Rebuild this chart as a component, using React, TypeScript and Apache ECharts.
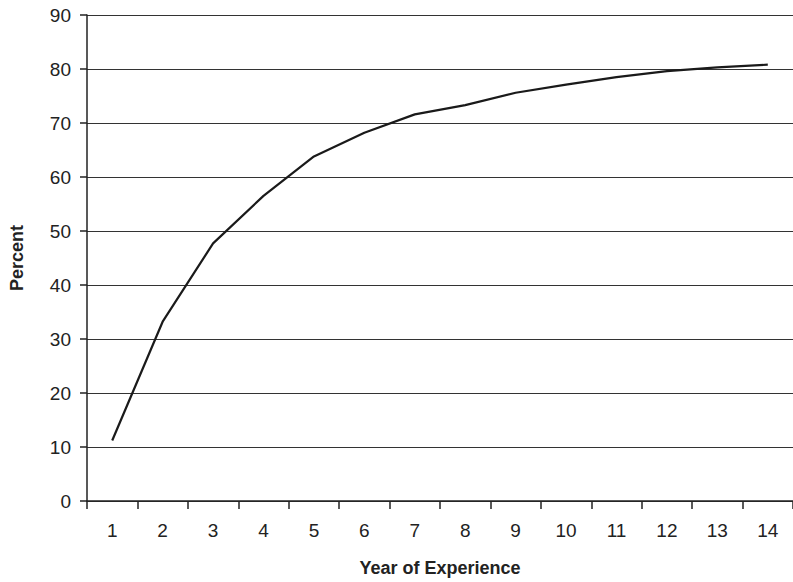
import React, { useEffect, useRef } from "react";
import * as echarts from "echarts";

const years = ["1", "2", "3", "4", "5", "6", "7", "8", "9", "10", "11", "12", "13", "14"];
const percent = [11.2, 33.2, 47.7, 56.5, 63.8, 68.2, 71.6, 73.3, 75.6, 77.1, 78.5, 79.6, 80.3, 80.8];

export default function App() {
  const ref = useRef<HTMLDivElement>(null);
  useEffect(() => {
    if (!ref.current) return;
    document.body.style.margin = "0";
    document.body.style.overflow = "hidden";
    const chart = echarts.init(ref.current, undefined, { renderer: "svg" });
    const font = "'Liberation Sans', Arial, Helvetica, sans-serif";
    chart.setOption({
      animation: false,
      backgroundColor: "#ffffff",
      grid: { left: 83, right: -5, top: 15, bottom: 76, containLabel: false },
      xAxis: {
        type: "category",
        data: years,
        boundaryGap: true,
        name: "Year of Experience",
        nameLocation: "middle",
        nameGap: 58,
        nameTextStyle: { fontFamily: font, fontSize: 18, fontWeight: "bold", color: "#222" },
        axisLine: { lineStyle: { color: "#222", width: 1.5 } },
        axisTick: { show: true, length: 8, lineStyle: { color: "#222", width: 1.5 } },
        axisLabel: { fontFamily: font, fontSize: 19, color: "#222", margin: 20 },
        splitLine: { show: false },
      },
      yAxis: {
        type: "value",
        min: 0,
        max: 90,
        interval: 10,
        name: "Percent",
        nameLocation: "middle",
        nameGap: 61,
        nameTextStyle: { fontFamily: font, fontSize: 18, fontWeight: "bold", color: "#222" },
        axisLine: { show: true, lineStyle: { color: "#222", width: 1.5 } },
        axisTick: { show: true, length: 7, lineStyle: { color: "#222", width: 1.5 } },
        axisLabel: { fontFamily: font, fontSize: 19, color: "#222", margin: 16 },
        splitLine: { show: true, lineStyle: { color: "#333", width: 1 } },
      },
      series: [
        {
          type: "line",
          data: percent,
          symbol: "none",
          lineStyle: { color: "#1a1a1a", width: 2.2 },
        },
      ],
    });
    return () => chart.dispose();
  }, []);
  return (
    <div
      style={{ position: "absolute", left: 0, top: 0, width: 793, height: 582, overflow: "hidden" }}
    >
      <div ref={ref} style={{ width: 793, height: 582 }} />
    </div>
  );
}
